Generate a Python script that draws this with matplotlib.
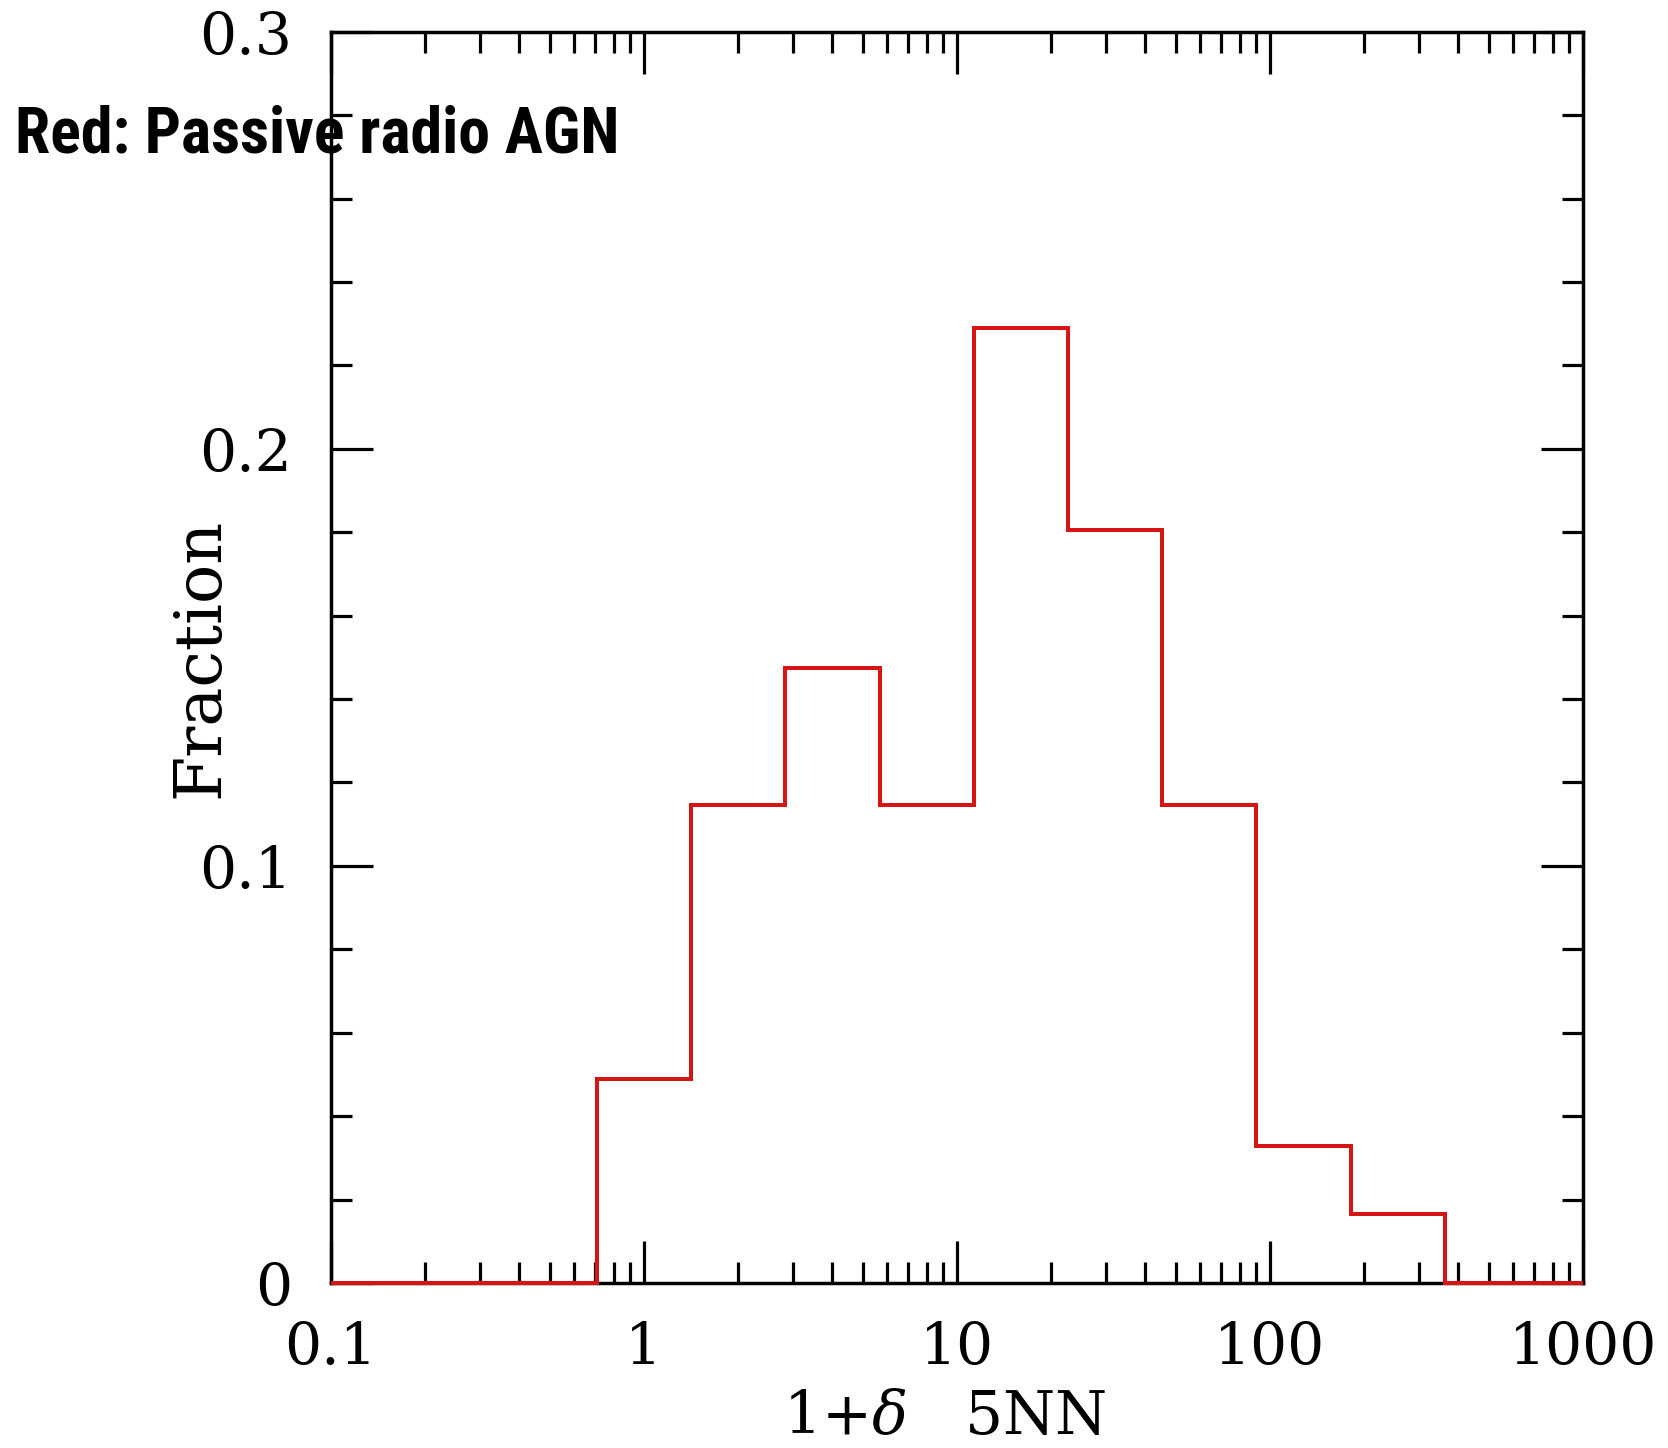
import matplotlib
matplotlib.use("Agg")
import matplotlib.pyplot as plt
from matplotlib.ticker import FixedLocator, LogLocator, MultipleLocator, FixedFormatter, NullFormatter

# ---- data ----
bin_edges = [0.1, 0.707, 1.414, 2.83, 5.66, 11.3, 22.6, 45.3, 90.5, 181.0, 362.0, 1000.0]
fractions = [0.0, 0.049, 0.1145, 0.1475, 0.1145, 0.229, 0.1805, 0.1145, 0.0328, 0.0165, 0.0]
x_ticks = [0.1, 1, 10, 100, 1000]
x_tick_labels = ["0.1", "1", "10", "100", "1000"]
y_ticks = [0.0, 0.1, 0.2, 0.3]
y_tick_labels = ["0", "0.1", "0.2", "0.3"]

plt.rcParams["mathtext.fontset"] = "dejavuserif"

fig = plt.figure(figsize=(16.68, 14.48), dpi=100)
fig.patch.set_facecolor("white")
ax = fig.add_axes([0.1984, 0.1140, 0.9490 - 0.1984, 0.978 - 0.1140])

ax.stairs(fractions, bin_edges, color="#d61414", linewidth=2.9, zorder=5, clip_on=False)

ax.set_xscale("log")
ax.set_xlim(0.1, 1000)
ax.set_ylim(0, 0.3)

ax.xaxis.set_major_locator(FixedLocator(x_ticks))
ax.xaxis.set_major_formatter(FixedFormatter(x_tick_labels))
ax.xaxis.set_minor_locator(LogLocator(base=10, subs=range(2, 10), numticks=20))
ax.xaxis.set_minor_formatter(NullFormatter())
ax.yaxis.set_major_locator(FixedLocator(y_ticks))
ax.yaxis.set_major_formatter(FixedFormatter(y_tick_labels))
ax.yaxis.set_minor_locator(MultipleLocator(0.02))

tickfont = "DejaVu Serif"
ax.tick_params(which="both", direction="in", top=True, right=True, width=2.3, colors="black")
ax.tick_params(which="major", length=30)
ax.tick_params(which="minor", length=15)
ax.tick_params(axis="x", which="major", pad=27, labelsize=42)
ax.tick_params(axis="y", which="major", pad=28, labelsize=42)
for lab in ax.get_xticklabels() + ax.get_yticklabels():
    lab.set_family(tickfont)

for sp in ax.spines.values():
    sp.set_linewidth(2.5)
    sp.set_color("black")

ax.set_ylabel("Fraction", fontsize=47, family=tickfont, labelpad=-24)
ax.set_xlabel(r"1+$\delta$   5NN", fontsize=43, family=tickfont, labelpad=8)
ax.xaxis.label.set_x(0.49)

fig.text(0.009, 0.907, "Red: Passive radio AGN", fontsize=46, fontweight="bold",
         fontstretch="condensed",
         family=["Roboto Condensed", "Open Sans Condensed", "Liberation Sans Narrow", "DejaVu Sans"],
         color="black", ha="left", va="center", zorder=10)

fig.savefig("out.png", dpi=100, facecolor="white")
